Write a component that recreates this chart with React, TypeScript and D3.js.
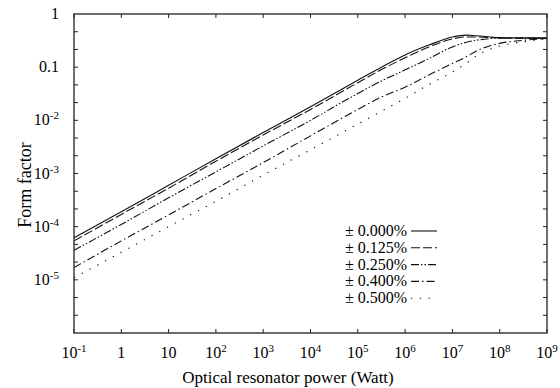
import React from 'react';
import * as d3 from 'd3';

// optical resonator power (W) at which the curves were read
const powers = [0.1, 1, 10, 1e2, 1e3, 1e4, 1e5, 3.16e5, 1e6, 3.16e6, 1e7, 2e7, 3.16e7, 1e8, 3.16e8, 1e9];

// form factor per detuning tolerance
const ff000 = [6.2e-5, 1.9e-4, 6.0e-4, 1.9e-3, 5.9e-3, 1.8e-2, 5.7e-2, 0.1, 0.17, 0.26, 0.37, 0.4, 0.39, 0.36, 0.355, 0.355];
const ff125 = [5.4e-5, 1.7e-4, 5.3e-4, 1.7e-3, 5.3e-3, 1.6e-2, 5.1e-2, 0.09, 0.15, 0.24, 0.34, 0.37, 0.37, 0.355, 0.35, 0.35];
const ff250 = [3.6e-5, 1.1e-4, 3.5e-4, 1.07e-3, 3.3e-3, 1.0e-2, 3.2e-2, 5.5e-2, 0.089, 0.145, 0.24, 0.295, 0.32, 0.35, 0.35, 0.35];
const ff400 = [1.7e-5, 5.4e-5, 1.66e-4, 5.2e-4, 1.6e-3, 5.1e-3, 1.6e-2, 2.75e-2, 4.2e-2, 7.1e-2, 0.117, 0.158, 0.2, 0.28, 0.32, 0.345];
const ff500 = [1.1e-5, 3.3e-5, 1.0e-4, 3.0e-4, 9.3e-4, 2.8e-3, 8.5e-3, 1.48e-2, 2.6e-2, 4.7e-2, 8.1e-2, 0.12, 0.162, 0.25, 0.3, 0.34];

const seriesLabels = ['0.000%', '0.125%', '0.250%', '0.400%', '0.500%'];
const seriesValues = [ff000, ff125, ff250, ff400, ff500];

// tick labels as [base, exponent]
const xTickLabels: [string, string][] = [['10', '-1'], ['1', ''], ['10', ''], ['10', '2'], ['10', '3'], ['10', '4'], ['10', '5'], ['10', '6'], ['10', '7'], ['10', '8'], ['10', '9']];
const yTickLabels: [string, string][] = [['1', ''], ['0.1', ''], ['10', '-2'], ['10', '-3'], ['10', '-4'], ['10', '-5']];

const dashes = ['none', '9,3', '8,2,1.5,2,1.5,2', '8,3,1.5,3', '1.3,7.5'];

const W = 560;
const H = 388;
const margin = { top: 14, right: 13, bottom: 55, left: 74 };
const font = '"Liberation Serif", "Times New Roman", serif';

const Label = ({ x, y, t, anchor }: { x: number; y: number; t: [string, string]; anchor: string }) => (
  <text x={x} y={y} textAnchor={anchor} fontSize={16} fontFamily={font} fill="#000">
    {t[0]}
    {t[1] && (
      <tspan fontSize={11} dy={-6}>
        {t[1]}
      </tspan>
    )}
  </text>
);

const App = () => {
  const x = d3.scaleLog().domain([1e-1, 1e9]).range([margin.left, W - margin.right]);
  const y = d3.scaleLog().domain([1e-6, 1]).range([H - margin.bottom, margin.top]);

  const line = d3
    .line<[number, number]>()
    .x(d => x(d[0]))
    .y(d => y(d[1]))
    .curve(d3.curveMonotoneX);

  const xDecades = d3.range(-1, 10).map(k => Math.pow(10, k));
  const yDecades = d3.range(0, -6, -1).map(k => Math.pow(10, k));
  const yMinor = d3.range(-17, 0).map(k => Math.pow(10, k / 3));

  const x0 = margin.left;
  const x1 = W - margin.right;
  const y0 = H - margin.bottom;
  const y1 = margin.top;

  return (
    <svg width={W} height={H} style={{ position: 'absolute', left: 0, top: 0, background: '#fff' }}>
      {/* series */}
      {seriesValues.map((vals, i) => (
        <path
          key={i}
          d={line(powers.map((p, j) => [p, vals[j]] as [number, number])) || ''}
          fill="none"
          stroke="#111"
          strokeWidth={1.1}
          strokeDasharray={dashes[i]}
        />
      ))}

      {/* frame */}
      <rect x={x0} y={y1} width={x1 - x0} height={y0 - y1} fill="none" stroke="#222" strokeWidth={1.3} />

      {/* x ticks */}
      {xDecades.map((v, i) => (
        <g key={'xt' + i}>
          <line x1={x(v)} x2={x(v)} y1={y0} y2={y0 - 4} stroke="#222" />
          <line x1={x(v)} x2={x(v)} y1={y1} y2={y1 + 4} stroke="#222" />
          <Label x={x(v)} y={y0 + 25} t={xTickLabels[i]} anchor="middle" />
        </g>
      ))}

      {/* y ticks */}
      {yMinor.map((v, i) => (
        <g key={'ym' + i}>
          <line x1={x0} x2={x0 + 4} y1={y(v)} y2={y(v)} stroke="#222" />
          <line x1={x1} x2={x1 - 4} y1={y(v)} y2={y(v)} stroke="#222" />
        </g>
      ))}
      {yDecades.map((v, i) => (
        <Label key={'yl' + i} x={59} y={y(v) + 5} t={yTickLabels[i]} anchor="end" />
      ))}

      {/* legend */}
      {seriesLabels.map((s, i) => {
        const ly = 231 + i * 16.8;
        return (
          <g key={'lg' + i}>
            <text x={407} y={ly + 5} textAnchor="end" fontSize={16} fontFamily={font} fill="#000">
              {'\u00b1  ' + s}
            </text>
            <line x1={411} x2={437} y1={ly} y2={ly} stroke="#111" strokeWidth={1.1} strokeDasharray={dashes[i]} />
          </g>
        );
      })}

      {/* axis titles */}
      <text x={288} y={383} textAnchor="middle" fontSize={17} fontFamily={font} fill="#000">
        Optical resonator power (Watt)
      </text>
      <text
        transform={`translate(31,185) rotate(-90)`}
        textAnchor="middle"
        fontSize={18}
        fontFamily={font}
        fill="#000"
      >
        Form factor
      </text>
    </svg>
  );
};

export default App;
